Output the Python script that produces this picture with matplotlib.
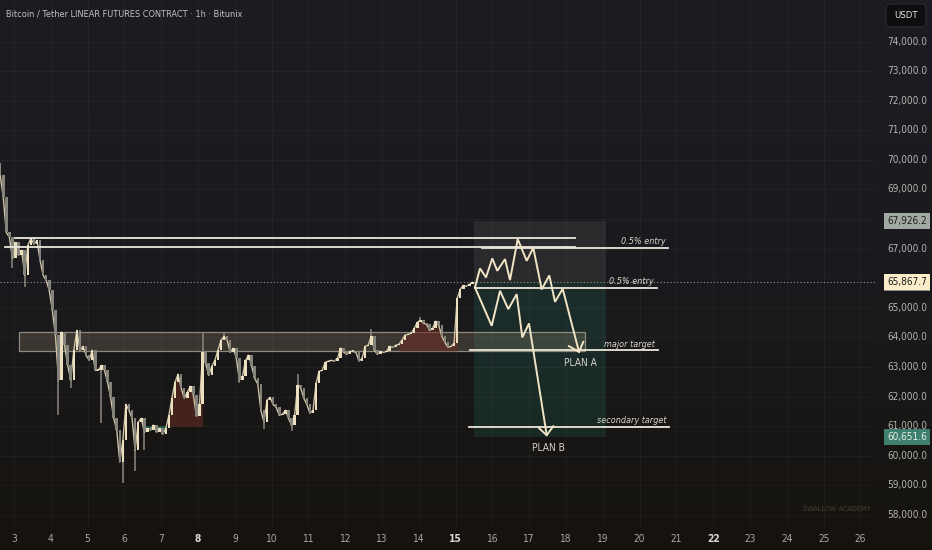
import matplotlib
matplotlib.use('Agg')
import matplotlib.pyplot as plt
import matplotlib.transforms as mtransforms
from matplotlib import font_manager as fm
from matplotlib.colors import LinearSegmentedColormap
from matplotlib.patches import Rectangle, FancyBboxPatch
import numpy as np

# narrow face if there is one
cond_file = fm.findfont(fm.FontProperties(family='DejaVu Sans', stretch='condensed'))
NARROW = 'ondensed' in cond_file
FONT = dict(family='DejaVu Sans', fontstretch='condensed')
SCALE = 1.0 if NARROW else 0.9

# 2h closes, first candle at day 2 + 15h
start_day = 2.625
first_open = 69900
closes = [69480, 68730, 67550, 67380, 66670, 67210, 66780, 66940, 66100, 67110,
          67350, 67150, 67280, 66610, 66100, 65930, 65590, 64920, 64080, 62560,
          64180, 63740, 63060, 62560, 63570, 64240, 63570, 63700, 63400, 63230,
          63570, 62890, 62890, 63060, 62890, 62490, 61980, 61270, 60870, 59790,
          60530, 61740, 61540, 61270, 60190, 61140, 61270, 60800, 60930, 60870,
          61040, 60800, 60930, 60730, 60930, 61370, 61950, 62490, 62760, 62290,
          61950, 62150, 62350, 62050, 61340, 61740, 63500, 63130, 62720, 63030,
          63230, 63570, 63910, 64040, 63910, 63500, 63640, 63300, 62560, 62690,
          63230, 63400, 63030, 62620, 62420, 61540, 61140, 61880, 61980, 61740,
          61640, 61370, 61410, 61540, 61270, 61040, 61370, 62390, 62290, 61950,
          61740, 61440, 61540, 62450, 62860, 62890, 63160, 63200, 63230, 63200,
          63300, 63640, 63500, 63430, 63530, 63530, 63500, 63200, 63300, 63700,
          63740, 64040, 63570, 63430, 63530, 63500, 63530, 63700, 63670, 63740,
          63770, 63910, 64080, 64110, 64140, 64310, 64510, 64580, 64480, 64450,
          64240, 64310, 64550, 64410, 64040, 63840, 63670, 63700, 63800, 65320,
          65630, 65760, 65730, 65800, 65867.7]
wick_idx = [4, 8, 19, 23, 33, 40, 44, 47, 66, 73, 78, 86, 95, 97, 121, 137]
wick_price = [66340, 65700, 61370, 62290, 61100, 59100, 59500, 60200, 64140,
              64150, 62450, 60900, 60850, 62760, 64300, 64700]

# demand zone
zone_days = [3.136, 18.516]
zone_prices = [63545, 64170]

# short position tool
pos_days = [15.5, 19.087]
stop_price = 67926.2
entry_price = 65867.7
target_price = 60651.6

# horizontal levels
level_prices = [67360, 67060, 67040, 65680, 63575, 60980]
level_start = [3.03, 2.755, 15.72, 15.53, 15.39, 15.36]
level_end = [18.245, 18.245, 20.77, 20.47, 20.50, 20.80]
level_texts = ['0.5% entry', '0.5% entry', 'major target', 'secondary target']
level_text_days = [20.72, 20.39, 20.42, 20.72]
level_text_prices = [67257, 65906, 63775, 61207]

# projected paths
planA_days = [15.527, 15.663, 15.826, 15.997, 16.133, 16.342, 16.478, 16.688,
              16.932, 17.111, 17.340, 17.546, 17.701, 17.910, 18.353]
planA_prices = [65692, 66334, 66030, 66672, 66253, 66649, 65939, 67325,
                66591, 67030, 65624, 66098, 65205, 65645, 63515]
planA_head_days = [18.08, 18.353, 18.47]
planA_head_prices = [63708, 63515, 63853]
planB_days = [15.527, 15.981, 16.207, 16.432, 16.660, 16.813, 16.995, 17.476]
planB_prices = [65692, 64394, 65577, 64958, 65465, 64002, 64475, 60700]
planB_head_days = [17.275, 17.476, 17.655]
planB_head_prices = [60926, 60700, 61004]

days = list(range(3, 27))
price_ticks = list(range(58000, 75000, 1000))
hidden_ticks = [66000, 68000]  # sit under the price tags

# layout in pixels
W, H = 932, 550
PLOT_R, PLOT_B = 876, 528
PX_DAY, X_DAY3 = 36.8, 14
PX_K, Y_74K = 29.6, 41.5

fig = plt.figure(figsize=(W / 100, H / 100), dpi=100)

bg = fig.add_axes([0, 0, 1, 1], zorder=-10)
cmap = LinearSegmentedColormap.from_list('bg', ['#16130e', '#1a1a1e', '#1c1d23'])
bg.imshow(np.linspace(0, 1, 256).reshape(-1, 1), aspect='auto', cmap=cmap,
          origin='lower', extent=[0, 1, 0, 1])
bg.axis('off')

ax = fig.add_axes([0, 1 - PLOT_B / H, PLOT_R / W, PLOT_B / H], zorder=1)
ax.patch.set_alpha(0)
ax.set_xlim(3 - X_DAY3 / PX_DAY, 3 + (PLOT_R - X_DAY3) / PX_DAY)
ax.set_ylim(74000 - (PLOT_B - Y_74K) / PX_K * 1000, 74000 + Y_74K / PX_K * 1000)
for s in ax.spines.values():
    s.set_visible(False)
ax.set_xticks(days)
ax.set_yticks(price_ticks)
ax.tick_params(length=0, labelbottom=False, labelleft=False)
ax.grid(color='white', alpha=0.035, lw=0.8)

c = np.array(closes)
t = start_day + np.arange(len(c)) / 12
o = np.concatenate([[first_open], c[:-1]])

# zone box
ax.add_patch(Rectangle((zone_days[0], zone_prices[0]), zone_days[1] - zone_days[0],
                       zone_prices[1] - zone_prices[0], fc='#bfae8c', alpha=0.2,
                       ec='none', zorder=2))
ax.add_patch(Rectangle((zone_days[0], zone_prices[0]), zone_days[1] - zone_days[0],
                       zone_prices[1] - zone_prices[0], fc='none', ec='#8e897d',
                       lw=0.9, zorder=2))

# position tool
ax.add_patch(Rectangle((pos_days[0], entry_price), pos_days[1] - pos_days[0],
                       stop_price - entry_price, fc='white', alpha=0.07, ec='none', zorder=1))
ax.add_patch(Rectangle((pos_days[0], target_price), pos_days[1] - pos_days[0],
                       entry_price - target_price, fc='#2a9d7f', alpha=0.15, ec='none', zorder=1))

# order block fills
r1 = slice(55, 67)
ax.fill_between(t[r1], 61000, c[r1], color='#6a2e25', alpha=0.55, lw=0, zorder=3)
g1 = slice(46, 56)
ax.fill_between(t[g1], 61000, c[g1], where=c[g1] < 61000, color='#2a8a74',
                alpha=0.6, lw=0, zorder=3, interpolate=True)
r2 = slice(130, 150)
ax.fill_between(t[r2], zone_prices[0], c[r2], color='#6a2e25', alpha=0.6, lw=0, zorder=3)

# candles
up = c >= o
bottom = np.minimum(o, c)
height = np.maximum(np.abs(c - o), 40)
wi = np.array(wick_idx)
wp = np.array(wick_price)
ax.vlines(t[wi], np.minimum(bottom[wi], wp), np.maximum(bottom[wi] + height[wi], wp),
          color='#8a887f', lw=1.1, zorder=4)
ax.plot(np.concatenate([[start_day - 1 / 12], t]), np.concatenate([[first_open], c]),
        color='#cfc3a6', lw=1.0, zorder=4.5)
ax.bar(t[up], height[up], bottom=bottom[up], width=0.07, color='#ecdfbf', lw=0, zorder=5)
ax.bar(t[~up], height[~up], bottom=bottom[~up], width=0.07, color='#85847c', lw=0, zorder=5)

# current price dotted line
ax.axhline(entry_price, color='#9a978d', lw=0.8, ls=(0, (1, 2)), zorder=4)

# levels
for p, a, b in zip(level_prices, level_start, level_end):
    ax.plot([a, b], [p, p], color='#ece7da', lw=1.3, zorder=6)
for s, d, p in zip(level_texts, level_text_days, level_text_prices):
    ax.text(d, p, s, ha='right', va='center', fontsize=6.5 * SCALE, style='italic',
            color='#d9d5c9', zorder=7, **FONT)

# plan paths
lc = '#f2e5c5'
ax.plot(planA_days, planA_prices, color=lc, lw=1.4, zorder=7, solid_joinstyle='miter')
ax.plot(planA_head_days, planA_head_prices, color=lc, lw=1.4, zorder=7)
ax.plot(planB_days, planB_prices, color=lc, lw=1.4, zorder=7, solid_joinstyle='miter')
ax.plot(planB_head_days, planB_head_prices, color=lc, lw=1.4, zorder=7)
ax.text(18.38, 63133, 'PLAN A', ha='center', va='center', fontsize=7.3 * SCALE,
        color='#d4d0c4', zorder=7, **FONT)
ax.text(17.51, 60260, 'PLAN B', ha='center', va='center', fontsize=7.3 * SCALE,
        color='#d4d0c4', zorder=7, **FONT)

# right price scale
tr_r = mtransforms.blended_transform_factory(ax.transAxes, ax.transData)
xr = 907 / PLOT_R
for p in price_ticks:
    if p in hidden_ticks:
        continue
    ax.text(xr, p, f'{p:,.1f}', transform=tr_r, ha='center', va='center',
            fontsize=7.2 * SCALE, color='#b4b4b0', clip_on=False, **FONT)
# grey strip peeking under the entry tag
ax.add_patch(Rectangle((884 / PLOT_R, 65560), 46 / PLOT_R, 260, transform=tr_r,
                       fc='#8f8f8a', ec='none', clip_on=False, zorder=7))
tags = [(stop_price, '#a1aaa2', '#1c1c1c'), (entry_price, '#fbecc9', '#1a1a1a'),
        (target_price, '#3e7f6d', '#e6efe9')]
for p, fc, tc in tags:
    ax.text(xr, p, f'{p:,.1f}', transform=tr_r, ha='center', va='center',
            fontsize=7.2 * SCALE, color=tc, clip_on=False, zorder=8,
            bbox=dict(boxstyle='square,pad=0.3', fc=fc, ec='none'), **FONT)

# time scale
tr_b = mtransforms.blended_transform_factory(ax.transData, ax.transAxes)
yb = (PLOT_B - 539) / PLOT_B
for d in days:
    strong = d in (8, 15, 22)
    ax.text(d, yb, str(d), transform=tr_b, ha='center', va='center', fontsize=7.3 * SCALE,
            color='#dadada' if strong else '#a9a9a6', weight='bold' if strong else 'normal',
            clip_on=False, **FONT)

# header, unit box, watermark
fig.text(6 / W, 1 - 14 / H, 'Bitcoin / Tether LINEAR FUTURES CONTRACT \u00b7 1h \u00b7 Bitunix',
         ha='left', va='center', fontsize=6.6 * SCALE, color='#c2c2c2', **FONT)
fig.patches.append(FancyBboxPatch((886 / W, 1 - 27 / H), 40 / W, 23 / H,
                                  boxstyle='round,pad=0,rounding_size=0.006',
                                  transform=fig.transFigure, fc='#0e0e10', ec='#2e2e33', lw=0.8))
fig.text(906 / W, 1 - 15.5 / H, 'USDT', ha='center', va='center', fontsize=6.8 * SCALE,
         color='#e8e8e8', **FONT)
fig.text(837 / W, 1 - 509 / H, 'SWALLOW ACADEMY', ha='center', va='center',
         fontsize=5.2 * SCALE, color='#4d3d2c', **FONT)

fig.savefig('out.png', dpi=100)
